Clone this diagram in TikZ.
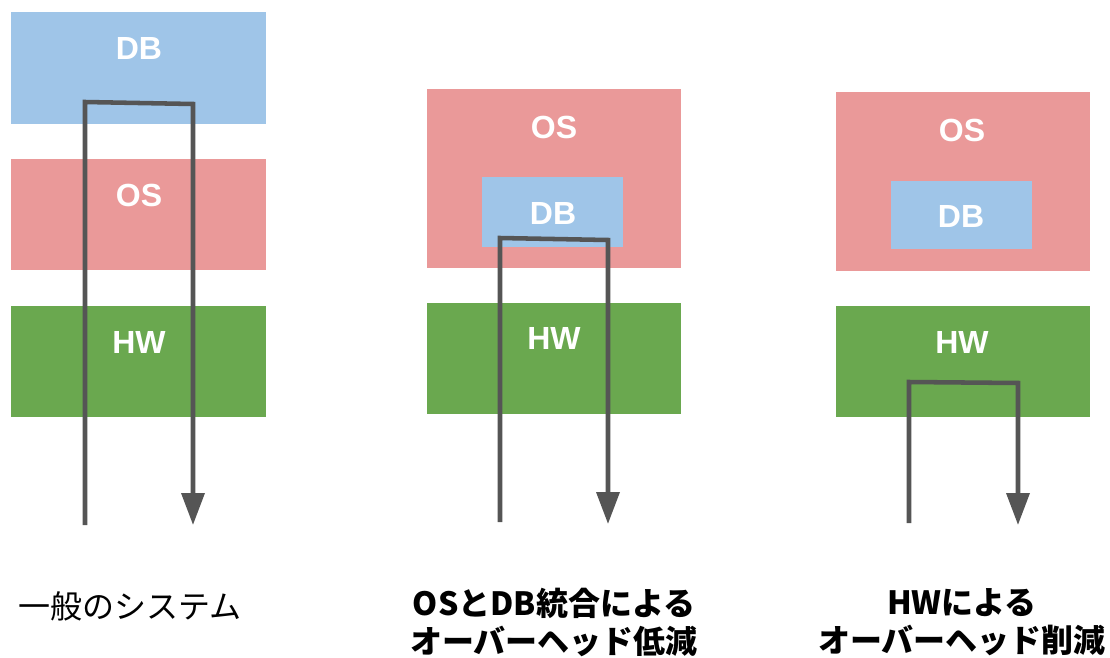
\documentclass[tikz,border=0pt]{standalone}
\usepackage{fontspec}
\setmainfont{Liberation Sans}
\newfontfamily\jp{Noto Sans CJK JP}
\usetikzlibrary{arrows.meta}
\definecolor{dbblue}{HTML}{9FC5E8}
\definecolor{osred}{HTML}{EA9999}
\definecolor{hwgreen}{HTML}{6AA84F}
\definecolor{flow}{HTML}{555555}
\tikzset{
  lbl/.style={text=white, font=\bfseries\fontsize{24}{26}\selectfont, inner sep=0pt},
  flowline/.style={draw=flow, line width=3.4pt, line join=miter},
  arr/.style={flowline, -{Triangle[length=24pt, width=17pt]}},
  captxt/.style={font=\jp\bfseries\fontsize{24}{26.5}\selectfont, align=center, inner sep=0pt},
  captreg/.style={font=\jp\fontsize{24}{26.5}\selectfont, inner sep=0pt},
}
\begin{document}
\begin{tikzpicture}[x=0.75pt, y=-0.75pt]
\useasboundingbox (0,0) rectangle (1110,657);
% left column
\fill[dbblue] (11,12) rectangle (266,124); \node[lbl] (ldb) at (139,48) {DB};
\fill[osred] (11,159) rectangle (266,270); \node[lbl] (los) at (139,195) {OS};
\fill[hwgreen] (11,306) rectangle (266,417); \node[lbl] (lhw) at (139,342) {HW};
\coordinate (la) at (85,525);
\coordinate (lb) at (85,102);
\coordinate (lc) at (193,104);
\coordinate (ld) at (193,525);
\draw[arr] (la) -- (lb) -- (lc) -- (ld);
% middle column
\fill[osred] (427,89) rectangle (681,268); \node[lbl] (mos) at (554,127) {OS};
\fill[dbblue] (482,177) rectangle (623,247); \node[lbl] (mdb) at (553,213) {DB};
\fill[hwgreen] (427,303) rectangle (681,414); \node[lbl] (mhw) at (554,338) {HW};
\coordinate (ma) at (500,522);
\coordinate (mb) at (500,238);
\coordinate (mc) at (608,240);
\coordinate (md) at (608,524);
\draw[arr] (ma) -- (mb) -- (mc) -- (md);
% right column
\fill[osred] (836,92) rectangle (1090,271); \node[lbl] (ros) at (962,130) {OS};
\fill[dbblue] (891,181) rectangle (1032,249); \node[lbl] (rdb) at (961,216) {DB};
\fill[hwgreen] (836,306) rectangle (1090,417); \node[lbl] (rhw) at (962,342) {HW};
\coordinate (ra) at (909,523);
\coordinate (rb) at (909,382);
\coordinate (rc) at (1018,383);
\coordinate (rd) at (1018,525);
\draw[arr] (ra) -- (rb) -- (rc) -- (rd);
% captions
\node[captreg, anchor=west] (c1) at (18,606) {一般のシステム};
\node[captxt] (c2) at (554,622) {OSとDB統合による\\[2pt]オーバーヘッド低減};
\node[captxt] (c3) at (962,622) {HWによる\\[2pt]オーバーヘッド削減};
\end{tikzpicture}
\end{document}
